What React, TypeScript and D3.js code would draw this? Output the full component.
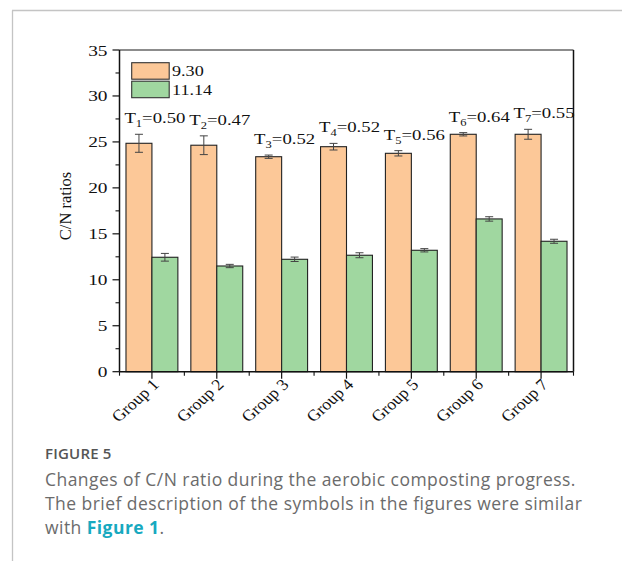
import * as d3 from "d3";

const groups = ["Group 1", "Group 2", "Group 3", "Group 4", "Group 5", "Group 6", "Group 7"];
const seriesNames = ["9.30", "11.14"];
const orangeValues = [24.85, 24.64, 23.39, 24.48, 23.76, 25.83, 25.83];
const orangeErrors = [0.98, 1.02, 0.18, 0.36, 0.29, 0.18, 0.54];
const greenValues = [12.45, 11.5, 12.23, 12.67, 13.21, 16.62, 14.19];
const greenErrors = [0.42, 0.18, 0.24, 0.27, 0.18, 0.24, 0.22];
const tValues = ["0.50", "0.47", "0.52", "0.52", "0.56", "0.64", "0.55"];
const yTicks = [0, 5, 10, 15, 20, 25, 30, 35];
const yMinorTicks = [2.5, 7.5, 12.5, 17.5, 22.5, 27.5, 32.5];

const COLORS = ["#FCC898", "#A0D7A0"];
const SERIF = "'Liberation Serif', 'Times New Roman', serif";
const SANS = "'Open Sans', Lato, sans-serif";
const SX = 1.25; // the source figure is stretched sideways

function StretchText({ x, y, children, anchor = "start", size = 15, rotate = 0, sx = SX }: any) {
  return (
    <text
      transform={`translate(${x},${y}) scale(${sx},1) rotate(${rotate})`}
      textAnchor={anchor}
      fontFamily={SERIF}
      fontSize={size}
      fill="#111"
    >
      {children}
    </text>
  );
}

export default function App() {
  const left = 119.5;
  const right = 573.5;
  const top = 50;
  const bottom = 371.7;

  const x = d3.scaleBand<string>().domain(groups).range([left, right]).paddingInner(0.2).paddingOuter(0.1);
  const inner = d3.scaleBand<string>().domain(seriesNames).range([0, x.bandwidth()]);
  const y = d3.scaleLinear().domain([0, 35]).range([bottom, top]);

  const series = [
    { name: seriesNames[0], values: orangeValues, errors: orangeErrors, color: COLORS[0] },
    { name: seriesNames[1], values: greenValues, errors: greenErrors, color: COLORS[1] },
  ];

  const step = x.step();
  const boundaries = groups.slice(1).map((g) => (x(g) as number) - (step * 0.2) / 2);

  return (
    <svg
      width={622}
      height={561}
      style={{ position: "absolute", left: 0, top: 0, background: "#fff" }}
    >
      {/* outer frame */}
      <line x1={12.5} x2={12.5} y1={10.5} y2={561} stroke="#c4c4c4" strokeWidth={1.3} />
      <line x1={12} x2={622} y1={10.5} y2={10.5} stroke="#c4c4c4" strokeWidth={1.3} />

      {/* bars */}
      {series.map((s) =>
        groups.map((g, i) => {
          const bx = (x(g) as number) + (inner(s.name) as number);
          const v = s.values[i];
          return (
            <rect
              key={s.name + g}
              x={bx}
              y={y(v)}
              width={inner.bandwidth()}
              height={y(0) - y(v)}
              fill={s.color}
              stroke="#222"
              strokeWidth={1.1}
            />
          );
        })
      )}

      {/* error bars */}
      {series.map((s) =>
        groups.map((g, i) => {
          const cx = (x(g) as number) + (inner(s.name) as number) + inner.bandwidth() / 2;
          const v = s.values[i];
          const e = s.errors[i];
          return (
            <g key={"e" + s.name + g} stroke="#444" strokeWidth={1}>
              <line x1={cx} x2={cx} y1={y(v + e)} y2={y(v - e)} />
              <line x1={cx - 4} x2={cx + 4} y1={y(v + e)} y2={y(v + e)} />
              <line x1={cx - 4} x2={cx + 4} y1={y(v - e)} y2={y(v - e)} />
            </g>
          );
        })
      )}

      {/* T labels */}
      {groups.map((g, i) => {
        const cx = (x(g) as number) + x.bandwidth() / 2;
        const ty = y(orangeValues[i] + orangeErrors[i]) - 11;
        return (
          <StretchText key={"t" + g} x={cx + 3} y={ty} anchor="middle" size={15}>
            <tspan>T</tspan>
            <tspan fontSize={10} dy={4}>{i + 1}</tspan>
            <tspan dy={-4}>={tValues[i]}</tspan>
          </StretchText>
        );
      })}

      {/* frame of plot */}
      <line x1={left} x2={right} y1={top} y2={top} stroke="#666" strokeWidth={1.3} />
      <line x1={right} x2={right} y1={top} y2={bottom} stroke="#111" strokeWidth={1.5} />
      <line x1={left} x2={left} y1={top} y2={bottom} stroke="#111" strokeWidth={1.5} />
      <line x1={left} x2={right} y1={bottom} y2={bottom} stroke="#111" strokeWidth={1.5} />

      {/* y ticks */}
      {yTicks.map((t) => (
        <g key={"yt" + t}>
          <line x1={left - 7} x2={left} y1={y(t)} y2={y(t)} stroke="#111" strokeWidth={1.2} />
          <StretchText x={left - 12} y={y(t) + 5.5} anchor="end" size={15.5}>
            {t}
          </StretchText>
        </g>
      ))}
      {yMinorTicks.map((t) => (
        <line key={"ym" + t} x1={left - 4} x2={left} y1={y(t)} y2={y(t)} stroke="#111" strokeWidth={1.1} />
      ))}

      {/* x ticks */}
      {groups.map((g) => {
        const cx = (x(g) as number) + x.bandwidth() / 2;
        return (
          <g key={"xt" + g}>
            <line x1={cx} x2={cx} y1={bottom} y2={bottom + 7} stroke="#111" strokeWidth={1.2} />
            <StretchText x={cx + 8} y={bottom + 14} anchor="end" size={16} rotate={-45} sx={1.1}>
              {g}
            </StretchText>
          </g>
        );
      })}
      {[left, ...boundaries, right].map((bx, i) => (
        <line key={"xm" + i} x1={bx} x2={bx} y1={bottom} y2={bottom + 4} stroke="#111" strokeWidth={1.1} />
      ))}

      {/* y label */}
      <text
        transform={`translate(71,206) rotate(-90)`}
        textAnchor="middle"
        fontFamily={SERIF}
        fontSize={16.5}
        fill="#111"
      >
        C/N ratios
      </text>

      {/* legend */}
      {series.map((s, i) => (
        <g key={"lg" + s.name}>
          <rect x={131.7} y={62.7 + i * 18.5} width={37.5} height={16.5} fill={s.color} stroke="#333" strokeWidth={1.1} />
          <StretchText x={172} y={76 + i * 19} size={14.5}>
            {s.name}
          </StretchText>
        </g>
      ))}

      {/* caption */}
      <text x={45} y={459} fontFamily={SANS} fontSize={15} fontWeight={600} fill="#555" letterSpacing={0.2}>
        FIGURE 5
      </text>
      <g fontFamily={SANS} fontSize={17.5} fill="#6b6b6b" letterSpacing={0.45}>
        <text x={45} y={485.5}>Changes of C/N ratio during the aerobic composting progress.</text>
        <text x={45} y={509.5}>The brief description of the symbols in the figures were similar</text>
        <text x={45} y={533.5}>
          with <tspan fill="#17a9c0" fontWeight={700}>Figure 1</tspan>.
        </text>
      </g>
    </svg>
  );
}
